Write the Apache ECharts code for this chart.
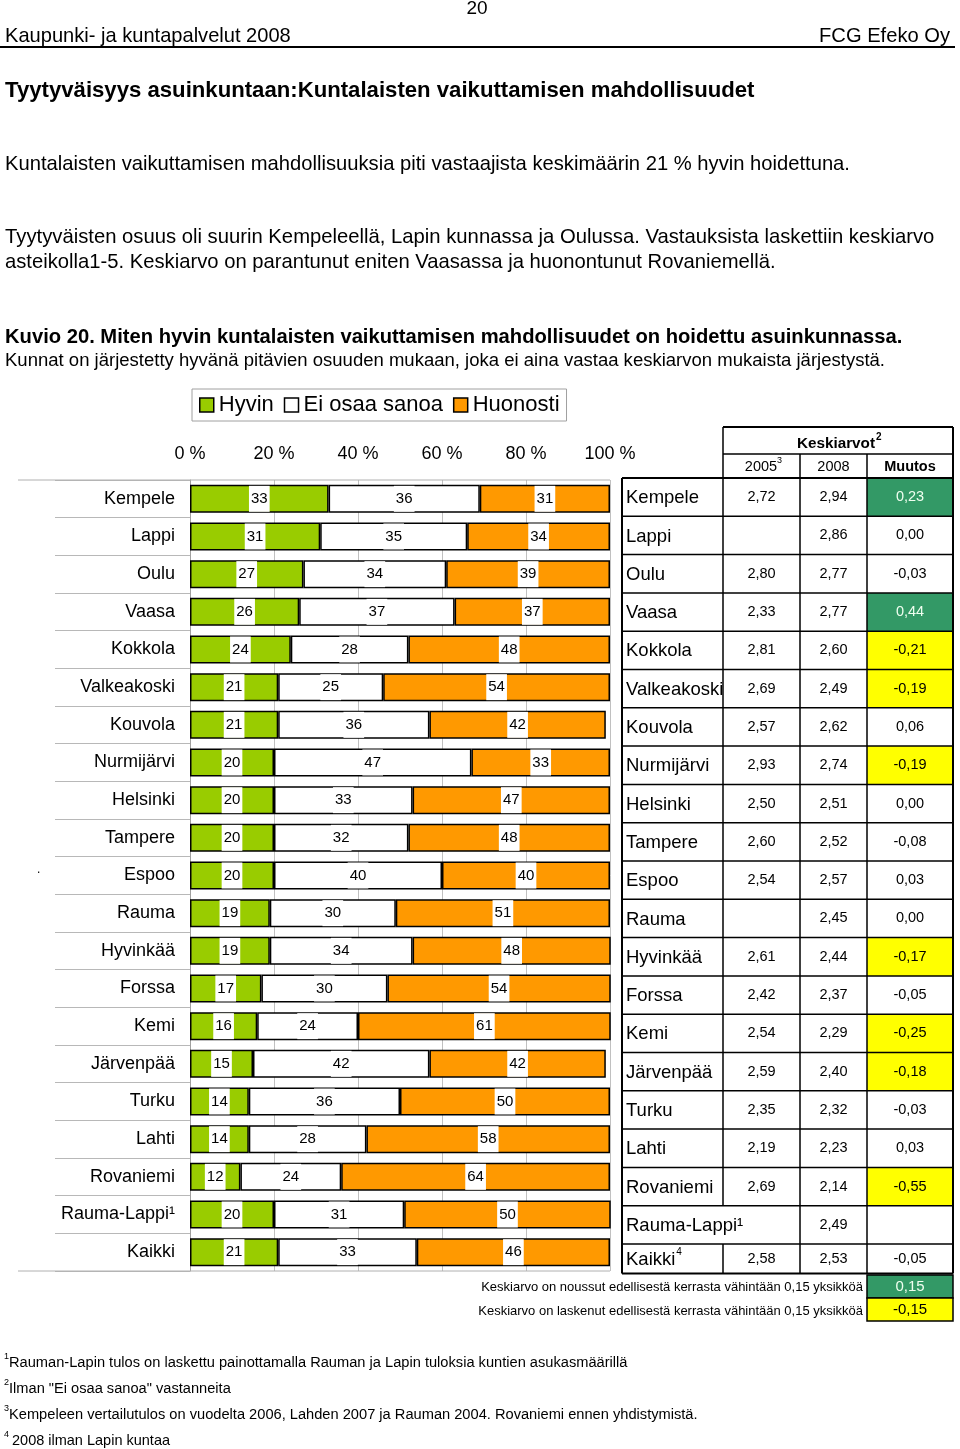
<!DOCTYPE html>
<html><head><meta charset="utf-8">
<script src="https://cdn.jsdelivr.net/npm/echarts@6/dist/echarts.min.js"></script>
<style>html,body{margin:0;padding:0;background:#fff}#c{width:960px;height:1449px}</style>
</head><body><div id="c"></div>
<script>
// ---- data ----
const categories = ['Kempele','Lappi','Oulu','Vaasa','Kokkola','Valkeakoski','Kouvola','Nurmijärvi','Helsinki','Tampere','Espoo','Rauma','Hyvinkää','Forssa','Kemi','Järvenpää','Turku','Lahti','Rovaniemi','Rauma-Lappi¹','Kaikki'];
const hyvin    = [33,31,27,26,24,21,21,20,20,20,20,19,19,17,16,15,14,14,12,20,21];
const eiOsaa   = [36,35,34,37,28,25,36,47,33,32,40,30,34,30,24,42,36,28,24,31,33];
const huonosti = [31,34,39,37,48,54,42,33,47,48,40,51,48,54,61,42,50,58,64,50,46];
const seriesNames = ['Hyvin','Ei osaa sanoa','Huonosti'];
const tickStep = 20;
const tableNames = ['Kempele','Lappi','Oulu','Vaasa','Kokkola','Valkeakoski','Kouvola','Nurmijärvi','Helsinki','Tampere','Espoo','Rauma','Hyvinkää','Forssa','Kemi','Järvenpää','Turku','Lahti','Rovaniemi','Rauma-Lappi¹','Kaikki'];
const avg2005 = [2.72,null,2.80,2.33,2.81,2.69,2.57,2.93,2.50,2.60,2.54,null,2.61,2.42,2.54,2.59,2.35,2.19,2.69,null,2.58];
const avg2008 = [2.94,2.86,2.77,2.77,2.60,2.49,2.62,2.74,2.51,2.52,2.57,2.45,2.44,2.37,2.29,2.40,2.32,2.23,2.14,2.49,2.53];
const muutos  = [0.23,0.00,-0.03,0.44,-0.21,-0.19,0.06,-0.19,0.00,-0.08,0.03,0.00,-0.17,-0.05,-0.25,-0.18,-0.03,0.03,-0.55,null,-0.05];
const threshold = 0.15;

// ---- helpers ----
const FF = '"Liberation Sans", Arial, sans-serif';
const cv = document.createElement('canvas').getContext('2d');
function fitSize(text, weight, w){ cv.font = weight+' 100px '+FF; return 100*w/cv.measureText(text).width; }
const g = [];
function T(text, x, y, o){
  o = o||{};
  const weight = o.weight||'normal';
  const size = o.w ? fitSize(text, weight, o.w) : (o.size||16);
  const al = o.align||'left';
  g.push({type:'text', silent:true, z:10, style:{text:text, x:x, y:y, font: weight+' '+size.toFixed(2)+'px '+FF,
    fill:o.color||'#000', align:al, textAlign:al, verticalAlign:'middle', textVerticalAlign:'middle'}});
}
function L(x1,y1,x2,y2,c,w){ g.push({type:'line', silent:true, z:9, shape:{x1,y1,x2,y2}, style:{stroke:c||'#000', lineWidth:w||1}}); }
function R(x,y,w,h,fill,stroke,lw){ g.push({type:'rect', silent:true, z:8, shape:{x,y,width:w,height:h}, style:{fill:fill||'none', stroke:stroke||null, lineWidth:lw||0}}); }
const fmt = v => v==null ? '' : v.toFixed(2).replace('.',',');

// ---- page text ----
T('20', 477, 9, {size:19, align:'center'});
T('Kaupunki- ja kuntapalvelut 2008', 5, 36, {w:286});
T('FCG Efeko Oy', 950, 36, {w:131, align:'right'});
L(0,47,955,47,'#000',2);
T('Tyytyväisyys asuinkuntaan:Kuntalaisten vaikuttamisen mahdollisuudet', 5, 91, {w:750, weight:'bold'});
T('Kuntalaisten vaikuttamisen mahdollisuuksia piti vastaajista keskimäärin 21 % hyvin hoidettuna.', 5, 164, {w:846});
T('Tyytyväisten osuus oli suurin Kempeleellä, Lapin kunnassa ja Oulussa. Vastauksista laskettiin keskiarvo', 5, 237, {w:930});
T('asteikolla1-5. Keskiarvo on parantunut eniten Vaasassa ja huonontunut Rovaniemellä.', 5, 262, {w:771});
T('Kuvio 20. Miten hyvin kuntalaisten vaikuttamisen mahdollisuudet on hoidettu asuinkunnassa.', 5, 337, {w:898, weight:'bold'});
T('Kunnat on järjestetty hyvänä pitävien osuuden mukaan, joka ei aina vastaa keskiarvon mukaista järjestystä.', 5, 361, {w:880});
T('.', 37, 870, {size:12});

// ---- chart frame lines (left label area) ----
L(18,480,610,480,'#b0b0b0',1);
L(18,1271,610,1271,'#b0b0b0',1);

// ---- table ----
const tX = [622,723,800,867,953];
const rowTop0 = 478, rowH = 38.3, lastRowH = 29.5;
const rowY = i => rowTop0 + i*rowH;
const n = tableNames.length;
const tBottom = rowY(n-1) + lastRowH;
for (let i=0;i<n;i++){
  const y0 = rowY(i), h = (i===n-1)? lastRowH : rowH, cy = y0 + h/2;
  const c = muutos[i];
  if (c!=null && c>=threshold) R(tX[3], y0, tX[4]-tX[3], h, '#339966');
  if (c!=null && c<=-threshold) R(tX[3], y0, tX[4]-tX[3], h, '#FFFF00');
  T(tableNames[i], 626, cy+1, {size:18.5});
  if (i===n-1) T('4', 626 + (function(){cv.font='normal 18.5px '+FF;return cv.measureText(tableNames[i]).width;})()+1, cy-7, {size:10});
  T(fmt(avg2005[i]), (tX[1]+tX[2])/2, cy, {size:14.5, align:'center'});
  T(fmt(avg2008[i]), (tX[2]+tX[3])/2, cy, {size:14.5, align:'center'});
  T(fmt(c), (tX[3]+tX[4])/2, cy, {size:14.5, align:'center', color: (c!=null && c>=threshold)?'#f0fff0':'#000'});
  L(tX[0], y0, tX[4], y0, '#000', 1.5);
  if (tableNames[i] !== 'Rauma-Lappi¹') L(tX[1], y0, tX[1], y0+h, '#000', 1.5);
  L(tX[2], y0, tX[2], y0+h, '#000', 1.5);
  L(tX[3], y0, tX[3], y0+h, '#000', 1.5);
}
L(tX[0], tBottom, tX[4], tBottom, '#000', 2);
L(tX[0], rowTop0, tX[0], tBottom, '#000', 2);
L(tX[4], 427, tX[4], tBottom, '#000', 2);
// header
L(tX[1], 427, tX[4], 427, '#000', 2);
L(tX[1], 427, tX[1], rowTop0, '#000', 1.5);
L(tX[1], 454, tX[4], 454, '#000', 1.5);
L(tX[2], 454, tX[2], rowTop0, '#000', 1.5);
L(tX[3], 454, tX[3], rowTop0, '#000', 1.5);
L(tX[0], rowTop0, tX[4], rowTop0, '#000', 2);
T('Keskiarvot', 836, 444, {weight:'bold', w:78, align:'center'});
T('2', 876, 437, {size:10, weight:'bold'});
T('2005', 761, 467, {size:14.5, align:'center'});
T('3', 777, 461, {size:9});
T('2008', 833.5, 467, {size:14.5, align:'center'});
T('Muutos', 910, 467, {size:14.5, weight:'bold', align:'center'});
// colour key
R(tX[3], 1275, tX[4]-tX[3], 23, '#339966', '#000', 1.5);
R(tX[3], 1298, tX[4]-tX[3], 23, '#FFFF00', '#000', 1.5);
T(fmt(threshold), 910, 1287, {size:15, align:'center', color:'#f0fff0'});
T(fmt(-threshold), 910, 1310, {size:15, align:'center'});
T('Keskiarvo on noussut edellisestä kerrasta vähintään 0,15 yksikköä', 863, 1287, {w:382, align:'right'});
T('Keskiarvo on laskenut edellisestä kerrasta vähintään 0,15 yksikköä', 863, 1311, {w:385, align:'right'});

// ---- footnotes ----
T('1', 4, 1357, {size:9});
T('Rauman-Lapin tulos on laskettu painottamalla Rauman ja Lapin tuloksia kuntien asukasmäärillä', 9, 1363, {w:619});
T('2', 4, 1383, {size:9});
T('Ilman "Ei osaa sanoa" vastanneita', 9, 1389, {w:222});
T('3', 4, 1409, {size:9});
T('Kempeleen vertailutulos on vuodelta 2006, Lahden 2007 ja Rauman 2004. Rovaniemi ennen yhdistymistä.', 9, 1415, {w:689});
T('4', 4, 1435, {size:9});
T('2008 ilman Lapin kuntaa', 12, 1441, {w:158});

// ---- chart ----
const colors = ['#99CC00','#FFFFFF','#FF9900'];
const dataSets = [hyvin, eiOsaa, huonosti];
const chart = echarts.init(document.getElementById('c'), null, {renderer:'canvas'});
chart.setOption({
  animation:false,
  textStyle:{fontFamily:FF},
  legend:{
    left:192, top:389, orient:'horizontal',
    padding:[5,7,5,7], borderColor:'#a0a0a0', borderWidth:1,
    itemGap:10, itemWidth:14, itemHeight:14, icon:'rect',
    textStyle:{fontSize:22, color:'#000', fontFamily:FF},
    itemStyle:{borderColor:'#000', borderWidth:1.5},
    data: seriesNames
  },
  grid:{left:190, right:350, top:480, bottom:178, containLabel:false},
  xAxis:{
    type:'value', position:'top', min:0, max:100, interval:tickStep,
    axisLine:{show:false}, axisTick:{show:false},
    axisLabel:{formatter:'{value} %', fontSize:18, color:'#000', margin:17},
    splitLine:{show:true, lineStyle:{color:'#c0c0c0', width:1}}
  },
  yAxis:{
    type:'category', inverse:true, data:categories,
    axisLine:{show:true, lineStyle:{color:'#a0a0a0', width:1}},
    axisTick:{show:true, length:135, lineStyle:{color:'#b8b8b8', width:1}},
    axisLabel:{fontSize:18, color:'#000', margin:15}
  },
  series: seriesNames.map((nm,k)=>({
    name:nm, type:'bar', stack:'all', barWidth:28,
    data: dataSets[k],
    itemStyle:{color:colors[k], borderColor:'#000', borderWidth:1.5},
    label:{show:true, position:'inside', fontSize:15, color:'#000', backgroundColor:'#fff', padding:[6,2,5,2]},
    emphasis:{disabled:true}
  })),
  graphic:{elements:g}
});
</script></body></html>
